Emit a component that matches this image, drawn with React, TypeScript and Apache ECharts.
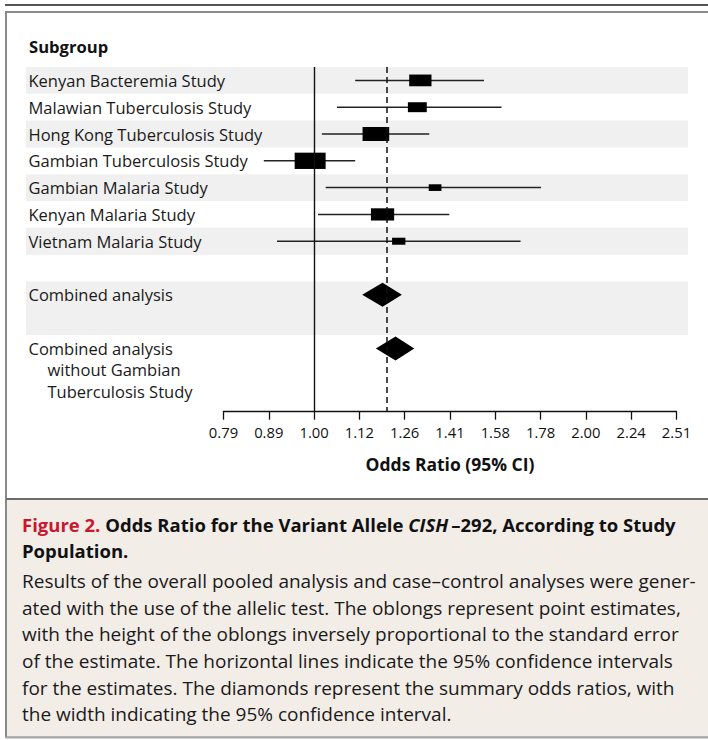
import React, { useEffect, useRef } from "react";
import * as echarts from "echarts";

// ---------- data ----------
const studies = [
  "Kenyan Bacteremia Study",
  "Malawian Tuberculosis Study",
  "Hong Kong Tuberculosis Study",
  "Gambian Tuberculosis Study",
  "Gambian Malaria Study",
  "Kenyan Malaria Study",
  "Vietnam Malaria Study",
];
const oddsRatios = [1.31, 1.3, 1.17, 0.99, 1.36, 1.19, 1.24];
const lowerCI = [1.11, 1.06, 1.02, 0.88, 1.03, 1.01, 0.91];
const upperCI = [1.54, 1.61, 1.34, 1.11, 1.78, 1.41, 1.69];
// relative precision (1/SE), drives oblong height
const precision = [0.72, 0.61, 0.86, 1.0, 0.41, 0.75, 0.43];

const summaryLabels = [
  ["Combined analysis"],
  ["Combined analysis", "without Gambian", "Tuberculosis Study"],
];
const summaryOR = [1.19, 1.23];
const summaryLower = [1.13, 1.17];
const summaryUpper = [1.25, 1.29];

const tickLabels = ["0.79", "0.89", "1.00", "1.12", "1.26", "1.41", "1.58", "1.78", "2.00", "2.24", "2.51"];
const headerLabel = "Subgroup";
const axisTitle = "Odds Ratio (95% CI)";

const captionFigure = "Figure 2.";
const captionTitleA = "Odds Ratio for the Variant Allele ";
const captionGene = "CISH";
const captionTitleB = "\u2009\u2013292, According to Study";
const captionTitleC = "Population.";
const captionBody = [
  "Results of the overall pooled analysis and case\u2013control analyses were gener-",
  "ated with the use of the allelic test. The oblongs represent point estimates,",
  "with the height of the oblongs inversely proportional to the standard error",
  "of the estimate. The horizontal lines indicate the 95% confidence intervals",
  "for the estimates. The diamonds represent the summary odds ratios, with",
  "the width indicating the 95% confidence interval.",
];

// ---------- layout ----------
const FONT = "'Open Sans', 'Noto Sans', sans-serif";
const LOG_MIN = -0.1;
const LOG_MAX = 0.4;
const LOG_STEP = 0.05;
const ROW_TOTAL = 12.86;
const PLOT_TOP = 67;
const PLOT_H = 344.7;
const studyRows = studies.map((_, i) => i + 0.5);
const summaryRows = [8.5, 10.5];
const shadedBands = [
  [0, 1],
  [2, 3],
  [4, 5],
  [6, 7],
  [8, 10],
];

export default function App() {
  const ref = useRef<HTMLDivElement>(null);

  useEffect(() => {
    document.body.style.margin = "0";
    if (!ref.current) return;
    const chart = echarts.init(ref.current, undefined, { renderer: "svg" });

    const studyData = studies.map((_, i) => [
      studyRows[i],
      Math.log10(lowerCI[i]),
      Math.log10(oddsRatios[i]),
      Math.log10(upperCI[i]),
      precision[i],
    ]);
    const summaryData = summaryOR.map((v, i) => [
      summaryRows[i],
      Math.log10(summaryLower[i]),
      Math.log10(v),
      Math.log10(summaryUpper[i]),
    ]);
    const labelData: any[] = [
      ...studies.map((s, i) => [studyRows[i], s]),
      ...summaryLabels.map((lines, i) => [summaryRows[i], lines.join("\n")]),
    ];

    const option: any = {
      animation: false,
      backgroundColor: "#ffffff",
      grid: [
        { left: 26, top: PLOT_TOP, width: 662, height: PLOT_H },
        { left: 223.5, top: PLOT_TOP, width: 453, height: PLOT_H },
      ],
      xAxis: [
        { gridIndex: 0, type: "value", min: 0, max: 1, show: false },
        {
          gridIndex: 1,
          type: "value",
          min: LOG_MIN,
          max: LOG_MAX,
          interval: LOG_STEP,
          position: "bottom",
          axisLine: { show: true, onZero: false, lineStyle: { color: "#111", width: 1.3 } },
          axisTick: { show: true, length: 8, inside: false, lineStyle: { color: "#111", width: 1.3 } },
          splitLine: { show: false },
          axisLabel: {
            margin: 13,
            fontSize: 14.8,
            fontFamily: FONT,
            color: "#111",
            formatter: (v: number) => tickLabels[Math.round((v - LOG_MIN) / LOG_STEP)] ?? "",
          },
          name: axisTitle,
          nameLocation: "middle",
          nameGap: 43,
          nameTextStyle: { fontSize: 17.5, fontWeight: "bold", fontFamily: FONT, color: "#111" },
        },
      ],
      yAxis: [
        { gridIndex: 0, type: "value", min: 0, max: ROW_TOTAL, inverse: true, show: false },
        { gridIndex: 1, type: "value", min: 0, max: ROW_TOTAL, inverse: true, show: false },
      ],
      series: [
        {
          type: "custom",
          name: "bands",
          xAxisIndex: 0,
          yAxisIndex: 0,
          z: 0,
          silent: true,
          data: shadedBands,
          encode: { y: [0, 1] },
          renderItem: (params: any, api: any) => {
            const p1 = api.coord([0, api.value(0)]);
            const p2 = api.coord([1, api.value(1)]);
            return {
              type: "rect",
              shape: { x: p1[0], y: p1[1], width: p2[0] - p1[0], height: p2[1] - p1[1] },
              style: { fill: "#f0f0f0" },
            };
          },
        },
        {
          type: "custom",
          name: "labels",
          xAxisIndex: 0,
          yAxisIndex: 0,
          z: 3,
          silent: true,
          data: labelData,
          encode: { y: 0 },
          renderItem: (params: any, api: any) => {
            const item = labelData[params.dataIndex];
            const p = api.coord([0, item[0]]);
            const lines = String(item[1]).split("\n");
            return {
              type: "group",
              children: lines.map((t: string, k: number) => ({
                type: "text",
                x: p[0] + 2.5 + (k > 0 ? 19 : 0),
                y: p[1] + k * 21.5,
                style: {
                  text: t,
                  fill: "#1a1a1a",
                  fontSize: 16.5,
                  fontFamily: FONT,
                  align: "left",
                  verticalAlign: "middle",
                },
              })),
            };
          },
        },
        {
          type: "scatter",
          name: "reference",
          xAxisIndex: 1,
          yAxisIndex: 1,
          z: 1,
          silent: true,
          data: [],
          markLine: {
            silent: true,
            symbol: "none",
            label: { show: false },
            data: [
              { xAxis: 0, lineStyle: { color: "#111", width: 1.4, type: "solid" } },
              {
                xAxis: Math.log10(summaryOR[0]),
                lineStyle: { color: "#111", width: 1.5, type: [6, 4] },
              },
            ],
          },
        },
        {
          type: "custom",
          name: "studies",
          xAxisIndex: 1,
          yAxisIndex: 1,
          z: 4,
          silent: true,
          data: studyData,
          encode: { x: [1, 2, 3], y: 0 },
          renderItem: (params: any, api: any) => {
            const row = api.value(0);
            const pLo = api.coord([api.value(1), row]);
            const pEst = api.coord([api.value(2), row]);
            const pHi = api.coord([api.value(3), row]);
            const h = api.value(4) * 16.3;
            const w = h * 1.9;
            return {
              type: "group",
              children: [
                {
                  type: "line",
                  shape: { x1: pLo[0], y1: pLo[1], x2: pHi[0], y2: pHi[1] },
                  style: { stroke: "#222", lineWidth: 1.5 },
                },
                {
                  type: "rect",
                  shape: { x: pEst[0] - w / 2, y: pEst[1] - h / 2, width: w, height: h },
                  style: { fill: "#000" },
                },
              ],
            };
          },
        },
        {
          type: "custom",
          name: "summary",
          xAxisIndex: 1,
          yAxisIndex: 1,
          z: 4,
          silent: true,
          data: summaryData,
          encode: { x: [1, 2, 3], y: 0 },
          renderItem: (params: any, api: any) => {
            const row = api.value(0);
            const pLo = api.coord([api.value(1), row]);
            const pEst = api.coord([api.value(2), row]);
            const pHi = api.coord([api.value(3), row]);
            const hh = 12;
            return {
              type: "polygon",
              shape: {
                points: [
                  [pLo[0], pLo[1]],
                  [pEst[0], pEst[1] - hh],
                  [pHi[0], pHi[1]],
                  [pEst[0], pEst[1] + hh],
                ],
              },
              style: { fill: "#000" },
            };
          },
        },
      ],
      graphic: [
        { type: "rect", shape: { x: 5, y: 4, width: 703, height: 2 }, style: { fill: "#555" }, silent: true },
        {
          type: "rect",
          shape: { x: 6, y: 12, width: 720, height: 725 },
          style: { fill: "none", stroke: "#8a8a8a", lineWidth: 2 },
          silent: true,
        },
        { type: "rect", shape: { x: 7, y: 500, width: 701, height: 236.5 }, style: { fill: "#f3ede8" }, silent: true },
        { type: "rect", shape: { x: 6, y: 498, width: 702, height: 2 }, style: { fill: "#6b6b6b" }, silent: true },
        { type: "rect", shape: { x: 5, y: 736.5, width: 703, height: 2 }, style: { fill: "#a8a8a8" }, silent: true },
        {
          type: "text",
          x: 29,
          y: 46,
          style: {
            text: headerLabel,
            fontSize: 16.6,
            fontWeight: "bold",
            fontFamily: FONT,
            fill: "#111",
            align: "left",
            verticalAlign: "middle",
          },
        },
        {
          type: "text",
          x: 22,
          y: 512,
          style: {
            text:
              "{r|" + captionFigure + "} {b|" + captionTitleA + "}{i|" + captionGene + "}{b|" + captionTitleB + "}\n{b|" + captionTitleC + "}",
            fontSize: 18.5,
            fontWeight: "bold",
            fontFamily: FONT,
            fill: "#111",
            lineHeight: 25.5,
            align: "left",
            verticalAlign: "top",
            rich: {
              r: { fill: "#c8172e", fontSize: 18.5, fontWeight: "bold", fontFamily: FONT, lineHeight: 25.5 },
              b: { fill: "#111", fontSize: 18.5, fontWeight: "bold", fontFamily: FONT, lineHeight: 25.5 },
              i: {
                fill: "#111",
                fontSize: 18.5,
                fontWeight: "bold",
                fontStyle: "italic",
                fontFamily: FONT,
                lineHeight: 25.5,
              },
            },
          },
        },
        {
          type: "text",
          x: 22,
          y: 567.5,
          style: {
            text: captionBody.join("\n"),
            fontSize: 19,
            fontFamily: FONT,
            fill: "#1a1a1a",
            lineHeight: 26.7,
            align: "left",
            verticalAlign: "top",
          },
        },
      ],
    };

    chart.setOption(option);
    return () => chart.dispose();
  }, []);

  return <div ref={ref} style={{ width: 708, height: 740 }} />;
}
